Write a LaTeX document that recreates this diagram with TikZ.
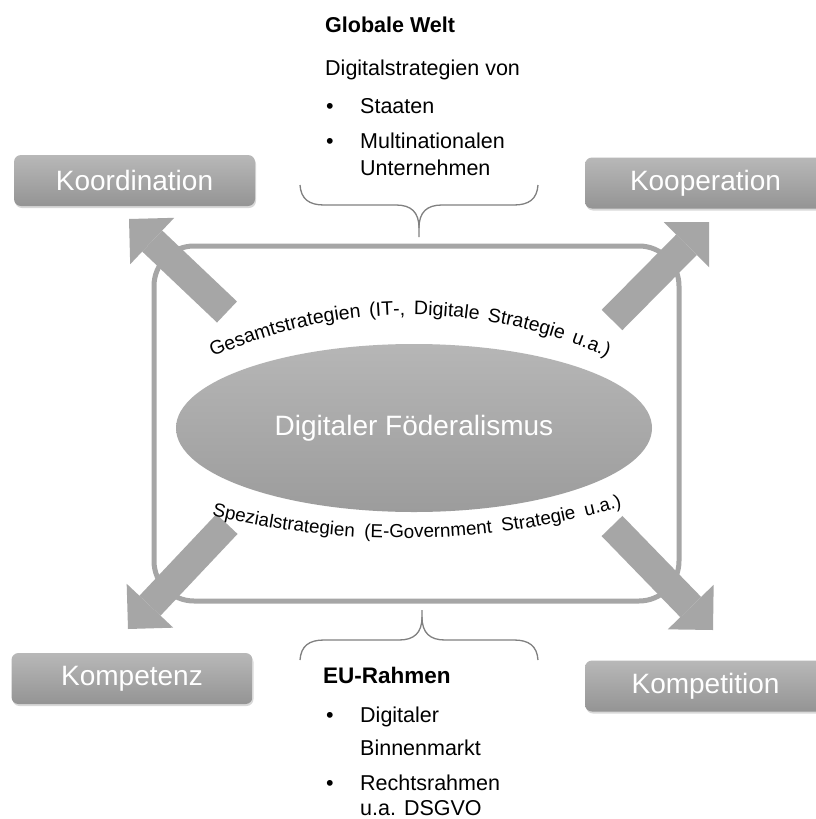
\documentclass[tikz,border=0pt]{standalone}
\usepackage{fontspec}
\setmainfont{Liberation Sans}
\usetikzlibrary{shapes.geometric,arrows.meta,decorations.text,shadows}
\definecolor{fdgray}{RGB}{166,166,166}
\definecolor{fdboxtop}{RGB}{184,184,184}
\definecolor{fdboxbot}{RGB}{148,148,148}
\definecolor{fdelltop}{RGB}{182,182,182}
\definecolor{fdellbot}{RGB}{156,156,156}
\definecolor{fdbrace}{RGB}{128,128,128}
\newcommand{\arctxt}{\fontsize{19.5}{21}\selectfont}
\newcommand{\arctxtb}{\fontsize{18.8}{21}\selectfont}

\begin{document}
\begin{tikzpicture}[x=1pt, y=-1pt,
    catbox/.style={rounded corners=7pt, minimum width=241pt, minimum height=51pt, inner sep=0pt,
        top color=fdboxtop, bottom color=fdboxbot, text=white, font=\fontsize{28}{32}\selectfont,
        drop shadow={shadow xshift=1pt, shadow yshift=-2pt, opacity=0.3}},
    bigarrow/.style={draw=fdgray, line width=29pt, -{Triangle[length=32pt, width=64pt, line width=0pt]}},
    bodytxt/.style={anchor=base west, inner sep=0pt, font=\fontsize{21.5}{26}\selectfont},
    headtxt/.style={anchor=base west, inner sep=0pt, font=\bfseries\fontsize{22.5}{26}\selectfont},
    bracepath/.style={draw=fdbrace, line width=1.3pt}]
    \path[use as bounding box, fill=white] (0,0) rectangle (816,819);

    % Rahmen um das Zentrum
    \node[draw=fdgray, line width=5pt, rounded corners=40pt, minimum width=525pt, minimum height=355pt] (frame) at (416.5,423.5) {};

    % Blockpfeile nach aussen
    \coordinate (tail-nw) at (227,312);  \coordinate (tip-nw) at (129,219);
    \coordinate (tail-ne) at (612,320);  \coordinate (tip-ne) at (709,222);
    \coordinate (tail-sw) at (227,524);  \coordinate (tip-sw) at (128,629);
    \coordinate (tail-se) at (612,526);  \coordinate (tip-se) at (713,630);
    \foreach \c in {nw,ne,sw,se} {
        \draw[bigarrow] (tail-\c) -- (tip-\c);
    }

    % Zentrum
    \node[ellipse, minimum width=476pt, minimum height=168pt, inner sep=0pt, top color=fdelltop, bottom color=fdellbot,
        text=white, font=\fontsize{28}{32}\selectfont] (foed) at (414,428) {Digitaler Föderalismus};

    % Bogentexte
    \path[decorate, decoration={text along path, text={|\arctxt|Gesamtstrategien (IT-, Digitale Strategie u.a.)},
        text align={fit to path stretching spaces}}] (213,357) arc[start angle=-114.07, end angle=-65.93, radius=483];
    \path[decorate, decoration={text along path, text={|\arctxtb|Spezialstrategien (E-Government Strategie u.a.)},
        text align={fit to path stretching spaces}}] (211.9,515.6) arc[start angle=103.6, end angle=73.89, radius=800];

    % vier K
    \node[catbox] (koord) at (134.5,180.5) {Koordination};
    \node[catbox] (koop)  at (705.5,183)   {Kooperation};
    \node[catbox] (kompz) at (132,678.5)   {Kompetenz};
    \node[catbox] (kompt) at (705.5,686)   {Kompetition};

    % Klammern
    \draw[bracepath] (300,185) .. controls (301,199) and (309,205) .. (324,205) -- (396,205)
        .. controls (411,205) and (419,212) .. (419,228) -- (419,237);
    \draw[bracepath] (538,185) .. controls (537,199) and (529,205) .. (514,205) -- (442,205)
        .. controls (427,205) and (419,212) .. (419,228);
    \draw[bracepath] (300,660) .. controls (301,646) and (309,640) .. (324,640) -- (399,640)
        .. controls (414,640) and (422,633) .. (422,617) -- (422,610);
    \draw[bracepath] (538,660) .. controls (537,646) and (529,640) .. (514,640) -- (445,640)
        .. controls (430,640) and (422,633) .. (422,617);

    % Globale Welt
    \node[headtxt, font=\bfseries\fontsize{21.5}{24}\selectfont] (glob) at (325,32) {Globale Welt};
    \node[bodytxt] (digstr) at (325,75) {Digitalstrategien von};
    \foreach \y [count=\k] in {113,148} {
        \node[bodytxt] (gdot\k) at (326,\y) {\textbullet};
    }
    \node[bodytxt] (staat) at (360,113) {Staaten};
    \node[bodytxt] (multi) at (360,148) {Multinationalen};
    \node[bodytxt] (unter) at (360,175) {Unternehmen};

    % EU-Rahmen
    \node[headtxt] (eur) at (323,683) {EU-Rahmen};
    \foreach \y [count=\k] in {722,790} {
        \node[bodytxt] (edot\k) at (326,\y) {\textbullet};
    }
    \node[bodytxt] (digi)  at (360,722) {Digitaler};
    \node[bodytxt] (binn)  at (360,755) {Binnenmarkt};
    \node[bodytxt] (recht) at (360,790) {Rechtsrahmen};
    \node[bodytxt] (dsgvo) at (360,815) {u.a. DSGVO};
\end{tikzpicture}
\end{document}
